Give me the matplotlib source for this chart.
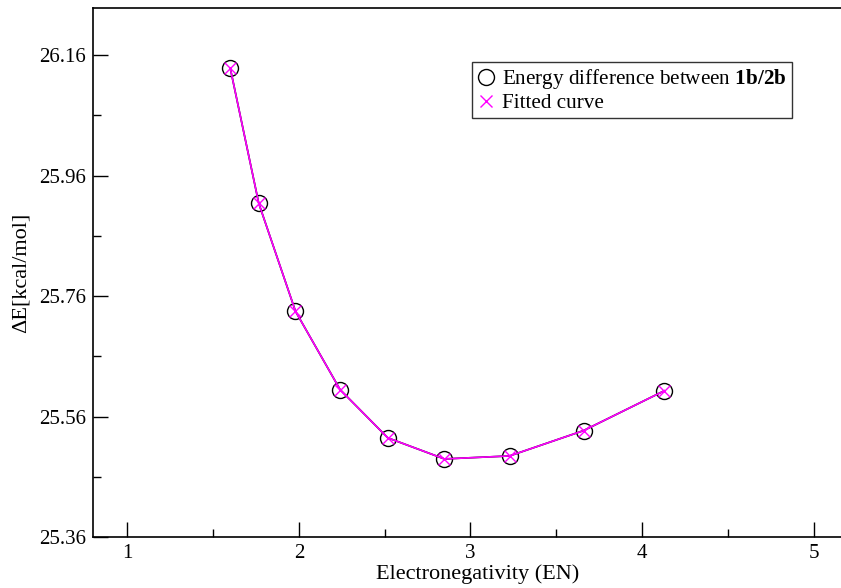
import matplotlib
matplotlib.use("Agg")
import matplotlib.pyplot as plt
from matplotlib.lines import Line2D
from matplotlib.ticker import AutoMinorLocator

plt.rcParams['font.family'] = ['Liberation Serif', 'DejaVu Serif']
plt.rcParams['mathtext.fontset'] = 'custom'
plt.rcParams['mathtext.rm'] = 'Liberation Serif'
plt.rcParams['mathtext.bf'] = 'Liberation Serif:bold'

# datos
en = [1.60, 1.766, 1.98, 2.24, 2.518, 2.848, 3.228, 3.659, 4.129]
delta_e = [26.138, 25.914, 25.735, 25.605, 25.525, 25.490, 25.495, 25.537, 25.603]
fitted = [26.138, 25.914, 25.735, 25.605, 25.525, 25.490, 25.495, 25.537, 25.603]

xticks = [1, 2, 3, 4, 5]
yticks = [25.36, 25.56, 25.76, 25.96, 26.16]

fig = plt.figure(figsize=(8.41, 5.88), dpi=100)
ax = fig.add_axes([0.1106, 0.0862, 0.914, 0.9002])

ax.plot(en, delta_e, color='black', lw=1.2, marker='o', ms=11.5,
        mfc='none', mec='black', mew=1.0)
ax.plot(en, fitted, color='#ff00ff', lw=1.2, marker='x', ms=8.5,
        mec='#ff00ff', mew=1.0)

ax.set_xlim(0.8, 5.28)
ax.set_ylim(25.36, 26.238)
ax.set_xticks(xticks)
ax.set_yticks(yticks)
ax.set_yticklabels(['%.2f' % v for v in yticks])
ax.xaxis.set_minor_locator(AutoMinorLocator(2))
ax.yaxis.set_minor_locator(AutoMinorLocator(2))
ax.tick_params(which='major', direction='in', length=11, width=1.0,
               labelsize=15, pad=5, top=False, right=False)
ax.tick_params(which='minor', direction='in', length=5.5, width=1.0,
               top=False, right=False)
ax.spines['right'].set_visible(False)
for s in ['left', 'bottom', 'top']:
    ax.spines[s].set_linewidth(1.2)

ax.set_xlabel('Electronegativity (EN)', fontsize=16, labelpad=1)
ax.set_ylabel('ΔE[kcal/mol]', fontsize=16, labelpad=6)

handles = [
    Line2D([], [], ls='None', marker='o', ms=11.5, mfc='none', mec='black', mew=1.0),
    Line2D([], [], ls='None', marker='x', ms=8.5, mec='#ff00ff', mew=1.0),
]
labels = [r'Energy difference between $\mathbf{1b/2b}$', 'Fitted curve']
leg = fig.legend(handles, labels, loc='upper left', bbox_to_anchor=(0.561, 0.8946),
                 fontsize=15.2, frameon=True, fancybox=False, handlelength=0.8,
                 handletextpad=0.4, borderpad=0.25, labelspacing=0.1,
                 borderaxespad=0)
leg.get_frame().set_edgecolor('black')
leg.get_frame().set_linewidth(1.0)

fig.savefig('out.png', dpi=100)
